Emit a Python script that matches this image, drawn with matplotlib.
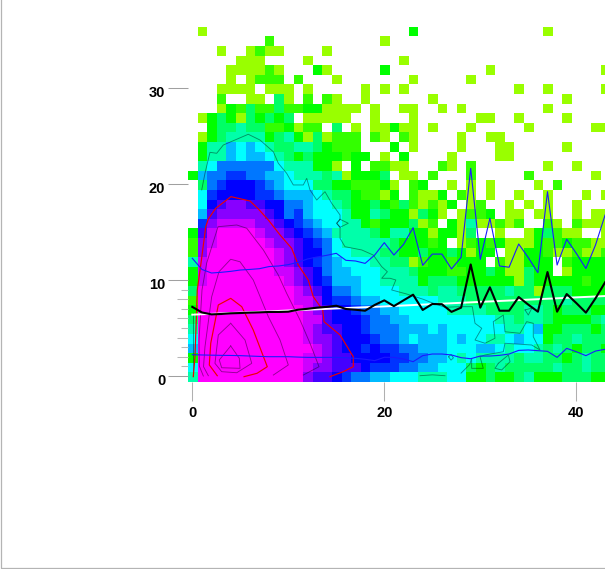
#!/usr/bin/python

import numpy as np
import matplotlib
matplotlib.use('Agg')
import matplotlib.pyplot as plt
from matplotlib.colors import ListedColormap
from matplotlib.lines import Line2D
from matplotlib.transforms import ScaledTranslation

# colour level of each cell, top row first ('.' = empty, 1..9, a..e = 10..14)
rows = [
    ".1........ .......... ...3...... .......1.. ....",
    "........2. .......... 1......... .......... ....",
    "...1..1211 ....1..... .......... .......... ....",
    ".....111.. ..1....... ..1....... .......... ....",
    "....111121 ...31..... 3......... .1........ ...1",
    "....1.1222 .2...1.... ...1.....1 .......... ....",
    "...1111.11 1.1.....1. 1.1....... ....1..1.. ...1",
    "...2..11.4 1.2.21..1. .....1.... .........1 ....",
    "...1324224 22331111.1 ..11..1.1. .......1.. ....",
    ".134314343 4.11111..1 ...1...... 11..1....1 ....",
    "..34454422 3122.4.1.1 1311.1...1 .....1.... ..11",
    ".134555534 53141222.2 1.21....1. .11....... ....",
    ".355767654 45543222.. .3.1....1. ..11.....1 ....",
    ".355767765 434333233. 1.3....1.. ..11...... ....",
    ".568888886 555331.3.2 211...21.2 .......1.. 1...",
    "3788998877 6555451333 4.11.2...2 .....2.... ..1.",
    ".489aaa987 6664433222 31.23..1.1 .1....1.2. ....",
    ".69aaaa998 7776544322 13.2113.21 .1..1..1.. .1.1",
    ".6abccbbaa 8876654334 32421213.1 2..1.1.1.. 1...",
    ".7bcccccba 8976665335 4331431.12 23.11.11.. 1.11",
    ".9cddddccb a987665532 333412.315 11212..21. 2111",
    "3bdeeeedcc ba98755554 3553313314 ..1..13421 1..1",
    "2cdeeeeedc cba9865555 5433323.12 3231113223 2211",
    "2ceeeeeeed cbaa866555 4433433431 33.1133211 2112",
    "5deeeeeeed cba9876665 5441233233 3.211333.2 3333",
    "3deeeeeeed dcba877666 5554333223 34311433.1 3333",
    "3deeeeeeee dcba977766 5555344433 3333143333 3233",
    "4eeeeeeeee edcba88766 6655545544 4445441444 3333",
    "2eeeeeeeee eddca99877 6666665554 4444444445 4444",
    "3eeeeeeeee eedcbaa988 7766666555 5444455434 4433",
    "4eeeeeeeee eeddbaaa98 8776666666 6655455433 3345",
    "5eeeeeeeee eedcbbaa98 8877767666 6665567334 4434",
    "6eeeeeeeee eedccbaaa9 8876777676 6556766344 5444",
    "7eeeeeeeee eeedcbaa9a 9988777666 7765665454 3443",
    "3eeeeeeeee eeddcbbaaa a998877656 5555455443 4544",
    "6eeeeeeeee eedccbbba9 9988776664 3454444454 4544",
    "5eeeeeeeee eecbba9887 7666555663 3433453334 4433",
]
level_colors = ['#99ff00', '#33ff00', '#00ff00', '#00ff66', '#00ffaa', '#00ffff', '#00bbff',
                '#0077ff', '#0033ff', '#0000ff', '#4400ff', '#8800ff', '#cc00ff', '#ff00ff']

# mean and spread per bin
bin_x = list(range(44))
mean_y = [7.2, 6.62, 6.42, 6.46, 6.53, 6.56, 6.6, 6.63, 6.67, 6.67, 6.7, 6.9, 7.0, 7.12, 7.2, 7.32, 6.98, 6.9, 6.8, 7.4,
          7.88, 7.28, 7.88, 8.47, 6.88, 7.5, 7.48, 6.68, 7.12, 11.62, 7.12, 9.24, 6.8, 6.8, 8.23, 7.43, 6.7, 10.83, 6.7, 8.54,
          7.6, 6.6, 8.09, 9.76]
upper_y = [12.26, 11.1, 10.73, 10.8, 10.9, 11.04, 11.1, 11.18, 11.4, 11.46, 11.6, 11.84, 12.19, 12.4, 12.57, 12.78, 12.05, 11.98, 11.73, 12.6,
           13.89, 12.6, 13.7, 15.45, 11.53, 12.7, 12.7, 11.15, 12.36, 21.63, 12.15, 16.43, 11.46, 11.33, 13.75, 12.33, 10.76, 19.2, 11.56, 14.24,
           12.78, 11.2, 13.64, 16.77]
lower_y = [2.22, 2.19, 2.17, 2.15, 2.14, 2.12, 2.08, 2.04, 2.01, 2.01, 2.01, 1.97, 1.94, 1.94, 1.94, 1.94, 1.9, 1.84, 1.74, 1.6,
           1.95, 1.94, 1.77, 1.49, 2.12, 2.29, 2.29, 2.19, 1.91, 1.8, 2.08, 2.08, 2.15, 2.29, 2.67, 2.71, 2.64, 2.57, 1.94, 2.88,
           2.53, 2.12, 2.6, 2.78]
fit_x = [0, 20, 43]
fit_y = [6.39, 7.25, 8.33]

# density contours
red_outer_x = [0.1, 0.28, 0.52, 0.88, 1.4, 1.67, 2.44, 4.03, 6.01, 6.88, 7.92, 9.14, 10.35, 11.04, 12.08, 12.6, 13.58, 13.72, 15.39, 16.77, 16.77, 15.73, 14.34]
red_outer_y = [-0.07, 2.01, 8.96, 11.56, 15.55, 16.35, 17.47, 18.68, 18.23, 17.4, 16.25, 14.69, 13.3, 11.56, 10, 8.26, 6.88, 5.66, 4.27, 2.01, 0.97, 0.45, -0.07]
red_inner_x = [2.6, 1.77, 1.92, 2.71, 4.0, 5.15, 6.35, 7.81, 6.74, 5.39]
red_inner_y = [0.03, 1.15, 3.41, 7.4, 8.09, 7.22, 4.79, 0.97, 0.28, -0.07]
c2_x = [1.15, 0.73, 0.7, 1.01, 1.5, 2.68, 4.63, 5.67, 7.4, 8.96, 9.83, 11.22, 12.26, 13.2, 11.56]
c2_y = [0, 1.04, 3.75, 8.96, 11.77, 15.55, 15.73, 15.39, 13.13, 10.52, 8.61, 5.83, 3.41, 0.97, 0.1]
c3_x = [1.67, 1.17, 1.32, 2.02, 2.78, 4, 4.97, 6.35, 7.92, 9.14, 10, 8.44]
c3_y = [0.03, 0.97, 3.05, 8.26, 10.86, 12.16, 11.9, 10, 6.18, 3.75, 1.15, 0.1]
c4_x = [4, 2.71, 2.36, 3.06, 4.63, 6.19, 5.49, 4]
c4_y = [5.49, 4.27, 1.32, 0.45, 0.34, 1.32, 3.75, 5.49]
c5_x = [4, 2.81, 3.06, 4.97, 4.9, 4]
c5_y = [3.13, 1.67, 0.86, 0.8, 1.84, 3.13]
teal_x = [0.98, 1.32, 1.84, 2.54, 3.23, 5.83, 7.05, 8.44, 8.96, 9.83, 10.52, 11.56, 11.92, 12.26, 12.96, 13.82, 14.52, 15.39, 15.39, 15.04, 15.39, 15.39, 15.9, 17.65, 18.85,
          19.73, 20.32, 19.73, 20.6, 21.2, 20.77, 22.33, 24.06, 25.1, 26.32, 27.88, 29.17, 29.45, 30.15, 29.45, 30.49, 31.53, 31.35, 32.4, 32.57, 34.14, 34.83, 35.52, 35.52, 36.22,
          35.35, 32.57, 32.4, 30.49, 29.97, 30.31, 29.1, 29.1, 28.9, 28.0]
teal_y = [19.38, 21.11, 23.3, 23.2, 24.06, 25.18, 24.58, 23.36, 22.16, 21.11, 19.9, 19.9, 20.59, 19.38, 18.33, 19.2, 17.99, 16.77, 16.32, 15.91, 15.49, 14.34, 13.47, 13.13, 12.6,
          11.39, 10.86, 10.18, 10.18, 10, 8.96, 8.54, 7.99, 7.57, 7.16, 7.22, 7.22, 5.49, 4.97, 3.75, 3.41, 3.93, 5.66, 6.35, 4.61, 4.45, 5.66, 5.49, 4.09, 2.71,
          3.23, 3.41, 2.53, 2.19, 2.01, 0.8, 0.8, 1.84, 1.2, 0.3]
loop1_x = [15.39, 16.25, 15.39, 15.04, 15.39]
loop1_y = [16.32, 15.91, 15.49, 15.91, 16.32]
loop2_x = [31.88, 32.92, 33.1, 32.23, 31.53, 31.88]
loop2_y = [1.32, 2.19, 1.49, 0.63, 0.8, 1.32]
loop3_x = [26.7, 26.95, 27.2, 26.95, 26.7]
loop3_y = [2.0, 2.25, 1.9, 1.65, 2.0]
loop4_x = [34.66, 35.38, 35.0, 34.66]
loop4_y = [6.88, 7.08, 6.35, 6.88]
dash_x = [23.72, 25.0, 26.32]
dash_y = [0.03, 0.12, 0.03]
edge_x = [0.1, 0.1]
edge_y = [0.0, 6.6]

x_ticks = [0, 20, 40]
y_ticks = [0, 10, 20, 30]
y_minor = [1, 2, 3, 4, 5, 6, 7, 8, 9]

plt.rcParams['font.family'] = ['Liberation Sans', 'DejaVu Sans']

# decode rows, bottom row first for pcolormesh
cells = []
for row in reversed(rows):
    row = row.replace(' ', '')
    cells.append([np.nan if c == '.' else int(c, 16) for c in row])
cells = np.ma.masked_invalid(np.array(cells))

fig = plt.figure(figsize=(6.05, 5.69), dpi=100)
ax = fig.add_axes([188/605, (569-382)/569, 417/605, 355.2/569])

x_edges = np.arange(45) - 0.448
y_edges = np.arange(38) - 0.625
ax.pcolormesh(x_edges, y_edges, cells, cmap=ListedColormap(level_colors), vmin=0.5, vmax=14.5, linewidth=0, antialiased=False)

thin = dict(color='black', alpha=0.42, lw=0.65)
for cx, cy in [(c2_x, c2_y), (c3_x, c3_y), (c4_x, c4_y), (c5_x, c5_y), (teal_x, teal_y), (loop1_x, loop1_y),
               (loop2_x, loop2_y), (loop3_x, loop3_y), (loop4_x, loop4_y), (dash_x, dash_y), (edge_x, edge_y)]:
    ax.plot(cx, cy, **thin)
ax.plot(red_outer_x, red_outer_y, color='#ee0000', lw=0.85)
ax.plot(red_inner_x, red_inner_y, color='#ee0000', lw=0.85)

ax.plot(bin_x, upper_y, color='#1a1aff', lw=0.8)
ax.plot(bin_x, lower_y, color='#1a1aff', lw=0.8)
ax.plot(fit_x, fit_y, color='white', lw=1.4)
ax.plot(bin_x, mean_y, color='black', lw=1.5)

ax.set_xlim(-0.448, 42.99)
ax.set_ylim(-0.625, 36.375)
for s in ax.spines.values():
    s.set_visible(False)

ax.set_xticks(x_ticks)
ax.set_yticks(y_ticks)
ax.set_yticks(y_minor, minor=True)
ax.tick_params(axis='x', which='major', length=13.5, width=0.75, color='#b0b0b0', pad=3.8, labelsize=10.5)
ax.tick_params(axis='y', which='major', length=14.4, width=0.75, color='#a0a0a0', pad=2, labelsize=10.5)
ax.tick_params(axis='y', which='minor', length=5, width=0.75, color='#b8b8b8')
for tick, v in zip(ax.yaxis.get_minor_ticks(), y_minor):
    tick.tick1line.set_markersize(8 if v % 2 == 0 else 5)
for lab in ax.get_xticklabels() + ax.get_yticklabels():
    lab.set_fontweight('bold')
for lab in ax.get_yticklabels():
    lab.set_transform(lab.get_transform() + ScaledTranslation(0, -2.5/72, fig.dpi_scale_trans))

# thin grey frame on the left and bottom of the picture
fig.add_artist(Line2D([0.5/605, 0.5/605, 1], [1, 0.7/569, 0.7/569], transform=fig.transFigure, color='#b4b4b4', lw=0.9))

plt.savefig('out.png', dpi=100)
